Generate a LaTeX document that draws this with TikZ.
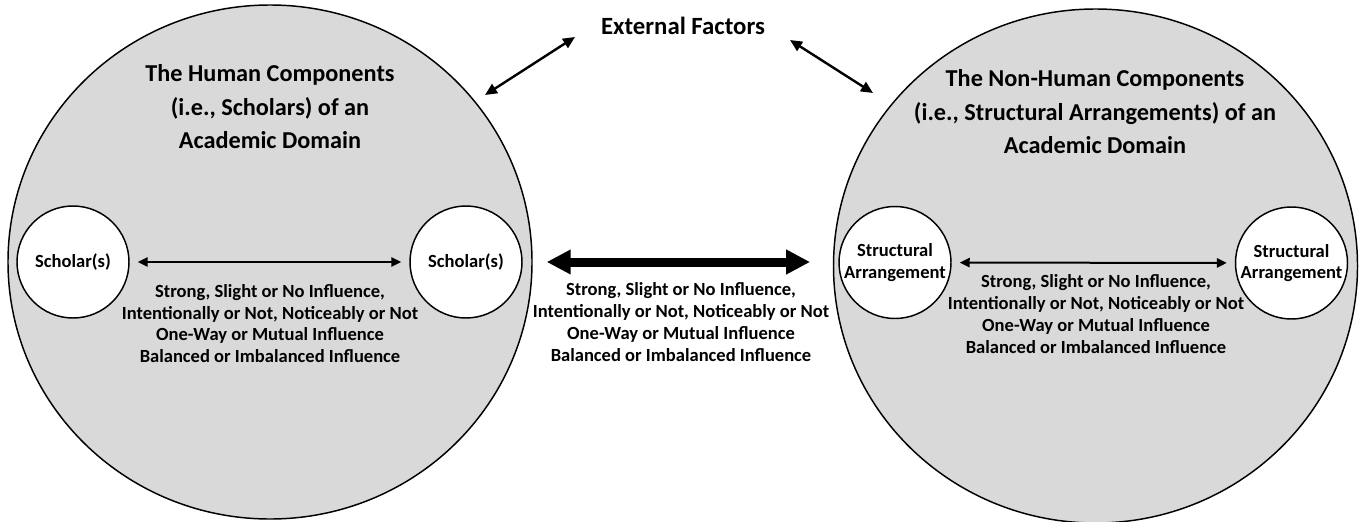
\documentclass[tikz,border=0pt]{standalone}
\usepackage{fontspec}
\setmainfont{Carlito}
\usetikzlibrary{arrows.meta,shapes.geometric}
\definecolor{circgray}{HTML}{D9D9D9}
\newcommand\smalltxt{\bfseries\fontsize{13.9pt}{16.4pt}\selectfont}
\newcommand\titletxt{\bfseries\fontsize{18.2pt}{25.1pt}\selectfont}
\begin{document}
\begin{tikzpicture}[x=0.75pt,y=-0.75pt,
  bigcirc/.style={ellipse,draw,line width=1.1pt,fill=circgray,inner sep=0pt,
    minimum width=393pt,minimum height=385.5pt},
  smallcirc/.style={circle,draw,line width=1.1pt,fill=white,inner sep=0pt,
    minimum size=84pt,align=center,font=\smalltxt},
  titlenode/.style={align=center,font=\titletxt,inner sep=0pt},
  infotext/.style={align=center,font=\smalltxt,inner sep=0pt},
  thinarrow/.style={{Triangle[length=7.5pt,width=7pt]}-{Triangle[length=7.5pt,width=7pt]},line width=1.5pt,
    shorten <=6pt,shorten >=6pt},
  extarrow/.style={{Triangle[length=9pt,width=8pt]}-{Triangle[length=9pt,width=8pt]},line width=1.8pt},
  bigarrow/.style={{Triangle[length=18pt,width=17.5pt]}-{Triangle[length=18pt,width=17.5pt]},line width=6.75pt}
]
\useasboundingbox (0,0) rectangle (1359,521);

% big domains
\node[bigcirc] (lc) at (270,262) {};
\node[bigcirc] (rc) at (1095.5,266) {};

% titles
\node[titlenode] (lt) at (270,107) {The Human Components\\(i.e., Scholars) of an\\Academic Domain};
\node[titlenode] (rt) at (1095,112) {The Non-Human Components\\(i.e., Structural Arrangements) of an\\Academic Domain};

% external factors
\node[titlenode,font=\bfseries\fontsize{18.6pt}{22pt}\selectfont] (ext) at (683,26) {External Factors};
\coordinate (e1a) at (485,95);
\coordinate (e1b) at (575,37);
\coordinate (e2a) at (790,40);
\coordinate (e2b) at (873,93);
\draw[extarrow] (e1a) -- (e1b);
\draw[extarrow] (e2a) -- (e2b);

% small circles
\node[smallcirc] (s1) at (73,262) {Scholar(s)};
\node[smallcirc] (s2) at (466,262) {Scholar(s)};
\node[smallcirc] (a1) at (895,262.5) {Structural\\Arrangement};
\node[smallcirc] (a2) at (1291.5,263) {Structural\\Arrangement};

% inner arrows
\draw[thinarrow] (s1) -- (s2);
\draw[thinarrow] (a1) -- (a2);

% big arrow
\draw[bigarrow,shorten <=10.5pt,shorten >=17pt] (lc.east) -- (lc.east -| rc.west);

% influence texts
\node[infotext] (lt2) at (270,323.5) {Strong, Slight or No Influence,\\Intentionally or Not, Noticeably or Not\\One-Way or Mutual Influence\\Balanced or Imbalanced Influence};
\node[infotext] (mt) at (681,322) {Strong, Slight or No Influence,\\Intentionally or Not, Noticeably or Not\\One-Way or Mutual Influence\\Balanced or Imbalanced Influence};
\node[infotext] (rt2) at (1096,314) {Strong, Slight or No Influence,\\Intentionally or Not, Noticeably or Not\\One-Way or Mutual Influence\\Balanced or Imbalanced Influence};
\end{tikzpicture}
\end{document}
